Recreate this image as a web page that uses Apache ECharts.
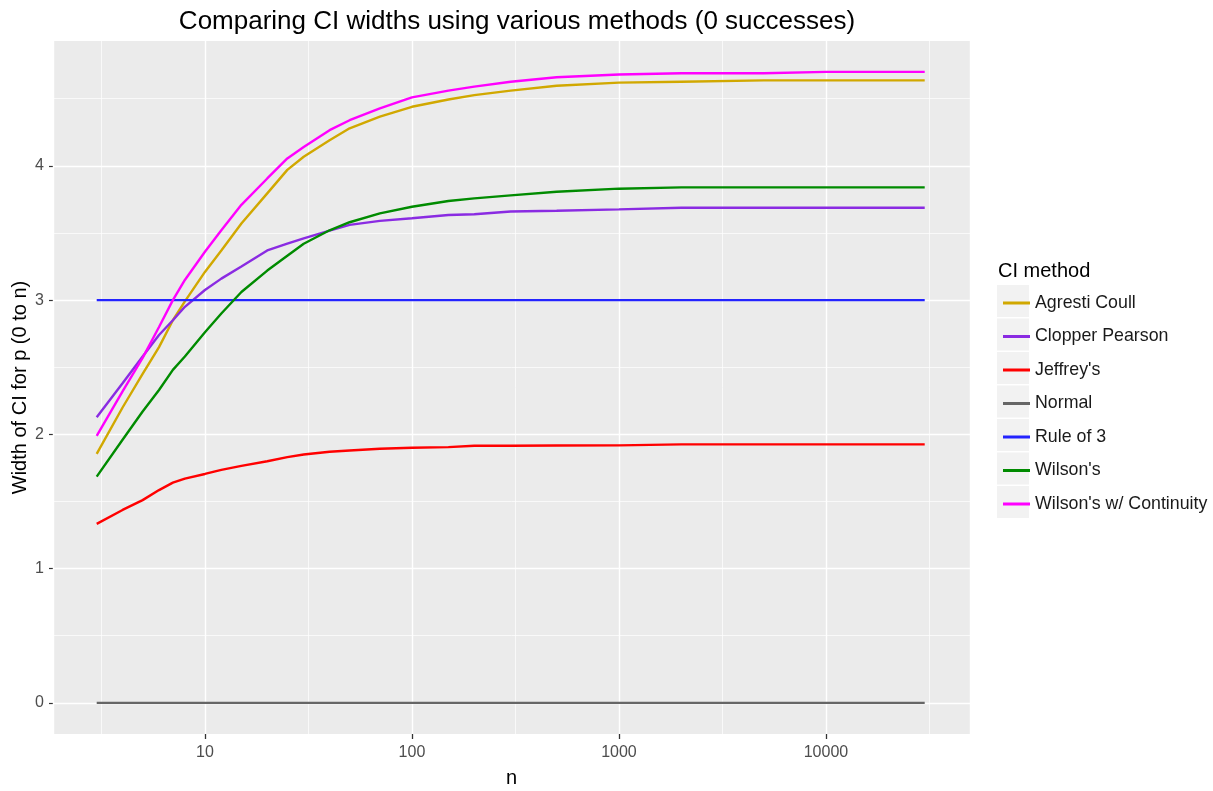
<!DOCTYPE html>
<html>
<head>
<meta charset="utf-8">
<script src="https://cdn.jsdelivr.net/npm/echarts@6/dist/echarts.min.js"></script>
<style>
html, body { margin: 0; padding: 0; background: #fff; }
#main { width: 1213px; height: 791px; }
</style>
</head>
<body>
<div id="main"></div>
<script>
var dom = document.getElementById('main');
var myChart = echarts.init(dom);

// sample sizes (x, log scale)
var nValues = [3, 4, 5, 6, 7, 8, 10, 12, 15, 20, 25, 30, 40, 50, 70, 100, 150, 200, 300, 500, 1000, 2000, 5000, 10000, 30000];

// widths
var agrestiCoull = [1.854, 2.20, 2.45, 2.65, 2.85, 2.99, 3.21, 3.37, 3.57, 3.795, 3.97, 4.068, 4.19, 4.28, 4.366, 4.44, 4.494, 4.527, 4.56, 4.597, 4.62, 4.627, 4.637, 4.637, 4.637];
var clopperPearson = [2.127, 2.38, 2.58, 2.74, 2.85, 2.95, 3.075, 3.16, 3.25, 3.37, 3.42, 3.46, 3.517, 3.56, 3.59, 3.61, 3.634, 3.64, 3.66, 3.666, 3.676, 3.688, 3.688, 3.688, 3.688];
var jeffreys = [1.333, 1.437, 1.51, 1.585, 1.64, 1.67, 1.705, 1.735, 1.765, 1.80, 1.83, 1.85, 1.87, 1.88, 1.893, 1.90, 1.905, 1.915, 1.915, 1.917, 1.918, 1.925, 1.925, 1.925, 1.925];
var normal = [0, 0, 0, 0, 0, 0, 0, 0, 0, 0, 0, 0, 0, 0, 0, 0, 0, 0, 0, 0, 0, 0, 0, 0, 0];
var ruleOf3 = [3, 3, 3, 3, 3, 3, 3, 3, 3, 3, 3, 3, 3, 3, 3, 3, 3, 3, 3, 3, 3, 3, 3, 3, 3];
var wilson = [1.685, 1.96, 2.17, 2.33, 2.48, 2.58, 2.76, 2.90, 3.06, 3.22, 3.33, 3.42, 3.52, 3.58, 3.646, 3.695, 3.738, 3.758, 3.78, 3.807, 3.83, 3.84, 3.84, 3.84, 3.84];
var wilsonCC = [1.988, 2.32, 2.57, 2.80, 3.0, 3.15, 3.36, 3.52, 3.71, 3.906, 4.055, 4.14, 4.266, 4.34, 4.428, 4.51, 4.56, 4.59, 4.626, 4.66, 4.68, 4.69, 4.69, 4.70, 4.70];

var methodNames = ['Agresti Coull', 'Clopper Pearson', "Jeffrey's", 'Normal', 'Rule of 3', "Wilson's", "Wilson's w/ Continuity"];
var methodValues = [agrestiCoull, clopperPearson, jeffreys, normal, ruleOf3, wilson, wilsonCC];
var methodColors = ['#D1A800', '#8A2BE2', '#FF0000', '#666666', '#2323FF', '#008B00', '#FF00FF'];

var yTicks = [0, 1, 2, 3, 4];
var yMinorTicks = [0.5, 1.5, 2.5, 3.5, 4.5];

var toPairs = function (vals) {
    var res = [];
    for (var i = 0; i < nValues.length; i++) {
        res.push([nValues[i], vals[i]]);
    }
    return res;
};

var FONT = '"Liberation Sans", Arial, sans-serif';
var xMin = 1.845, xMax = 49650;
var yMin = -0.232, yMax = 4.93;

var series = [];
for (var i = 0; i < methodNames.length; i++) {
    series.push({
        name: methodNames[i],
        type: 'line',
        xAxisIndex: 0,
        yAxisIndex: 0,
        data: toPairs(methodValues[i]),
        showSymbol: false,
        symbol: 'none',
        color: methodColors[i],
        lineStyle: { width: 2.4, color: methodColors[i] },
        emphasis: { disabled: true }
    });
}

// grey key boxes behind legend lines, ggplot style
var keyBoxes = [];
for (var k = 0; k < methodNames.length; k++) {
    keyBoxes.push({
        type: 'rect',
        left: 997,
        top: 285 + k * 33.5,
        shape: { width: 32, height: 32 },
        style: { fill: '#F2F2F2' },
        z: -1
    });
}

var option = {
    backgroundColor: '#FFFFFF',
    animation: false,
    title: [{
        text: 'Comparing CI widths using various methods (0 successes)',
        left: 512,
        textAlign: 'center',
        top: 4,
        textStyle: { fontFamily: FONT, fontSize: 26, fontWeight: 'normal', color: '#000' }
    }, {
        text: 'CI method',
        left: 993,
        top: 256,
        textStyle: { fontFamily: FONT, fontSize: 20, fontWeight: 'normal', color: '#000' }
    }],
    legend: {
        orient: 'vertical',
        left: 998,
        top: 288,
        icon: 'rect',
        itemWidth: 27,
        itemHeight: 3,
        itemGap: 13.5,
        selectedMode: false,
        data: methodNames,
        textStyle: { fontFamily: FONT, fontSize: 17.8, color: '#1A1A1A', lineHeight: 20 }
    },
    graphic: keyBoxes,
    grid: {
        left: 53,
        right: 243,
        top: 41,
        bottom: 57,
        outerBoundsMode: 'none',
        containLabel: false,
        show: true,
        backgroundColor: '#EBEBEB',
        borderWidth: 0
    },
    xAxis: [{
        type: 'log',
        logBase: 10,
        min: xMin,
        max: xMax,
        name: 'n',
        nameLocation: 'middle',
        nameGap: 34,
        nameMoveOverlap: false,
        nameTextStyle: { fontFamily: FONT, fontSize: 20, color: '#000' },
        axisLine: { show: true, onZero: false, lineStyle: { color: 'rgba(0,0,0,0)', width: 0 } },
        axisTick: { show: true, inside: false, length: 5, lineStyle: { color: '#333333', width: 1.3 } },
        axisLabel: {
            showMinLabel: false,
            showMaxLabel: false,
            margin: 11,
            fontFamily: FONT,
            fontSize: 16,
            color: '#4D4D4D',
            formatter: function (v) { return String(v); }
        },
        splitLine: { show: true, lineStyle: { color: '#FFFFFF', width: 1.4 } },
        z: 3
    }, {
        type: 'log',
        logBase: Math.sqrt(10),
        splitNumber: 10,
        min: xMin,
        max: xMax,
        axisLine: { show: false, onZero: false },
        axisTick: { show: false },
        axisLabel: { show: false },
        splitLine: { show: true, lineStyle: { color: '#FFFFFF', width: 0.7 } },
        z: 0
    }],
    yAxis: [{
        type: 'value',
        min: yMin,
        max: yMax,
        splitNumber: 5,
        name: 'Width of CI for p (0 to n)',
        nameLocation: 'middle',
        nameGap: 23,
        nameMoveOverlap: false,
        nameTextStyle: { fontFamily: FONT, fontSize: 20, color: '#000' },
        axisLine: { show: false, onZero: false },
        axisTick: { show: true, length: 4, customValues: yTicks, lineStyle: { color: '#333333', width: 1.2 } },
        axisLabel: {
            customValues: yTicks,
            margin: 9,
            fontFamily: FONT,
            fontSize: 16,
            color: '#4D4D4D'
        },
        splitLine: { show: true, lineStyle: { color: '#FFFFFF', width: 1.4 } },
        z: 1
    }, {
        type: 'value',
        min: yMin,
        max: yMax,
        splitNumber: 10,
        axisLine: { show: false, onZero: false },
        axisTick: { show: false, customValues: yMinorTicks },
        axisLabel: { show: false },
        splitLine: { show: true, lineStyle: { color: '#FFFFFF', width: 0.7 } },
        z: 0
    }],
    series: series
};

myChart.setOption(option);
</script>
</body>
</html>
